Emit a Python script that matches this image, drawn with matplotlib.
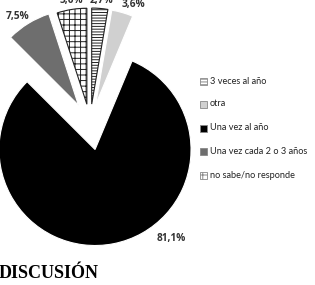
import matplotlib
matplotlib.use("Agg")
import matplotlib.pyplot as plt
from matplotlib.patches import Rectangle

categories = ["3 veces al año", "otra", "Una vez al año",
              "Una vez cada 2 o 3 años", "no sabe/no responde"]
values = [2.7, 3.6, 81.1, 7.5, 5.0]
labels = ["2,7%", "3,6%", "81,1%", "7,5%", "5,0%"]

colors = ["white", "#d0d0d0", "black", "#6e6e6e", "white"]
hatches = ["------", None, None, None, "+++"]
explode_px = [20, 20, 26, 22, 20]

W, H = 315, 285
fig = plt.figure(figsize=(W / 100, H / 100), dpi=100)
ax = fig.add_axes([0, 0, 1, 1])

plt.rcParams["hatch.linewidth"] = 0.7
wedges, _ = ax.pie(values, explode=explode_px, colors=colors, startangle=90,
                   counterclock=False, center=(90, H - 124), radius=96,
                   wedgeprops=dict(linewidth=0.8, edgecolor="white"),
                   frame=True)
ax.set_xlim(0, W)
ax.set_ylim(0, H)
ax.set_aspect("equal")
ax.axis("off")
for w, h in zip(wedges, hatches):
    if h:
        w.set_hatch(h)
        w.set_edgecolor("#222222")
        w.set_linewidth(0.8)

# data labels (Excel-style, placed outside)
label_pos = [(101, 0), (133, 4), (171, 239), (18, 17), (71, 0)]
for (x, y), t in zip(label_pos, labels):
    ax.text(x, H - y, t, ha="center", va="center", fontsize=7.3,
            fontweight="bold", color="#333333", family="Open Sans")

# legend
leg_y = [81, 104, 128, 151, 175]
for i, (cat, y) in enumerate(zip(categories, leg_y)):
    r = Rectangle((200, H - y - 3.5), 7, 7, facecolor=colors[i],
                  edgecolor="#888888", linewidth=0.6, hatch=hatches[i])
    ax.add_patch(r)
    ax.text(210, H - y, cat, ha="left", va="center", fontsize=6.6,
            color="#222222", family="Lato")

ax.text(-1, H - 273, "DISCUSIÓN", ha="left", va="center", fontsize=13,
        fontweight="bold", family="Liberation Serif", color="black")

fig.savefig("out.png", dpi=100)
